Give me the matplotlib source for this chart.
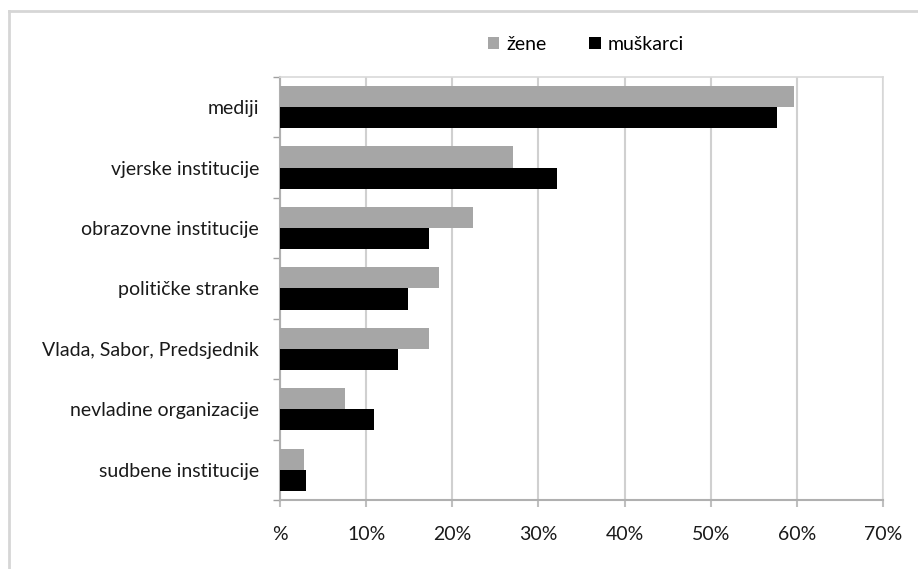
import numpy as np
import matplotlib.pyplot as plt
from matplotlib.lines import Line2D

# data (percent)
categories = ['mediji', 'vjerske institucije', 'obrazovne institucije',
              'političke stranke', 'Vlada, Sabor, Predsjednik',
              'nevladine organizacije', 'sudbene institucije']
zene = [59.7, 27.0, 22.4, 18.5, 17.3, 7.6, 2.8]
muskarci = [57.7, 32.1, 17.3, 14.9, 13.7, 10.9, 3.0]
x_ticks = [0, 10, 20, 30, 40, 50, 60, 70]
x_labels = ['%', '10%', '20%', '30%', '40%', '50%', '60%', '70%']

plt.rcParams['font.family'] = ['Lato', 'DejaVu Sans']

fig = plt.figure(figsize=(9.18, 5.69), dpi=100)
ax = fig.add_axes([0.305, 0.1213, 0.657, 0.7434])

y = np.arange(len(categories))
h = 0.35
ax.barh(y - h / 2, zene, height=h, color='#a6a6a6', label='žene', zorder=3)
ax.barh(y + h / 2, muskarci, height=h, color='black', label='muškarci', zorder=3)

ax.set_xlim(0, 70)
ax.set_ylim(len(categories) - 0.5, -0.5)
ax.set_xticks(x_ticks)
ax.set_xticklabels(x_labels)
ax.set_yticks(y)
ax.set_yticklabels(categories)
ax.set_yticks(np.arange(-0.5, len(categories)), minor=True)
ax.tick_params(axis='y', which='major', length=0, pad=15, labelsize=14, labelcolor='#1a1a1a')
ax.tick_params(axis='y', which='minor', length=5, color='#a0a0a0', width=1)
ax.tick_params(axis='x', which='major', length=5, color='#bfbfbf', width=1.5,
               pad=14, labelsize=14, labelcolor='#1a1a1a')

ax.grid(axis='x', color='#d0d0d0', linewidth=1.5, zorder=0)
for side in ['top', 'right']:
    ax.spines[side].set_color('#d9d9d9')
    ax.spines[side].set_linewidth(1.2)
for side in ['left', 'bottom']:
    ax.spines[side].set_color('#b0b0b0')
    ax.spines[side].set_linewidth(1.5)

ax.legend(loc='center', bbox_to_anchor=(0.638, 0.922), bbox_transform=fig.transFigure,
          ncol=2, frameon=False, fontsize=14, handlelength=0.6, handleheight=0.6,
          columnspacing=2.2, handletextpad=0.35)

# outer frame (only left and top edges visible)
fig.add_artist(Line2D([9 / 918, 9 / 918], [0, 1 - 11 / 569], color='#d6d6d6',
                      linewidth=2, transform=fig.transFigure))
fig.add_artist(Line2D([9 / 918, 1], [1 - 11 / 569, 1 - 11 / 569], color='#d6d6d6',
                      linewidth=2, transform=fig.transFigure))

fig.savefig('out.png', dpi=100)
